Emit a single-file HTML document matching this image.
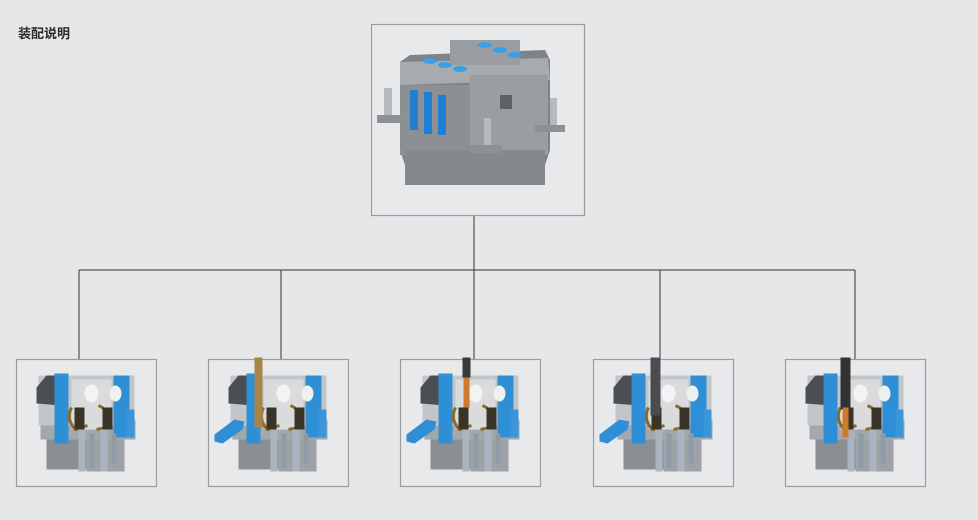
<!DOCTYPE html>
<html><head><meta charset="utf-8"><style>
html,body{margin:0;padding:0;background:#e6e7e9;}
body{width:978px;height:520px;overflow:hidden;position:relative;font-family:"Liberation Sans","Noto Sans CJK SC",sans-serif;}
.t{position:absolute;left:18px;top:23px;font-size:13px;font-weight:bold;color:#2a2a2a;}
</style></head><body>
<div class="t">装配说明</div>
<svg width="978" height="520" style="position:absolute;left:0;top:0">
<defs>
<g id="m">
  <rect x="0" y="0" width="140" height="127" fill="#e8e9eb" stroke="#9a9c9e" stroke-width="1.2"/>
  <!-- lower body -->
  <rect x="30" y="70" width="78" height="40" fill="#8b8f94"/>
  <rect x="70" y="72" width="38" height="40" fill="#9ea2a6"/>
  <rect x="24" y="60" width="95" height="20" fill="#a4a8ac"/>
  <!-- upper body -->
  <rect x="22" y="16" width="96" height="50" fill="#c3c6c9"/>
  <polygon points="20,28 30,16 46,16 46,46 20,44" fill="#4b4e52"/>
  <rect x="38" y="14" width="14" height="70" fill="#2f8fd6"/>
  <rect x="97" y="16" width="16" height="62" fill="#2f8fd6"/>
  <rect x="110" y="50" width="8" height="28" fill="#3a96da"/>
  <!-- inner cavity -->
  <rect x="55" y="20" width="40" height="50" fill="#d9dbdd"/>
  <ellipse cx="75" cy="34" rx="7" ry="9" fill="#f2f3f4"/>
  <ellipse cx="99" cy="34" rx="6" ry="8" fill="#eef0f1"/>
  <path d="M55,48 q-6,12 4,22 l12,-4 M82,46 q14,6 8,22 l-10,2" fill="none" stroke="#8a6a2a" stroke-width="3"/>
  <rect x="58" y="48" width="10" height="22" fill="#3a3426"/>
  <rect x="86" y="48" width="10" height="22" fill="#3a3426"/>
  <!-- pins -->
  <rect x="62" y="70" width="7" height="42" fill="#a9b4c0"/>
  <rect x="73" y="74" width="5" height="34" fill="#8f9aa5"/>
  <rect x="84" y="70" width="7" height="42" fill="#a9b4c0"/>
  <rect x="95" y="74" width="5" height="30" fill="#8f9aa5"/>
</g>
<g id="lever"><polygon points="6,75 26,60 36,62 34,70 14,84 6,82" fill="#2f8fd6"/></g>
</defs>

<!-- connectors -->
<g stroke="#333" stroke-width="1" fill="none">
  <line x1="474" y1="215" x2="474" y2="270"/>
  <line x1="79" y1="270" x2="855" y2="270"/>
  <line x1="79" y1="270" x2="79" y2="359"/>
  <line x1="281" y1="270" x2="281" y2="359"/>
  <line x1="474" y1="270" x2="474" y2="359"/>
  <line x1="660" y1="270" x2="660" y2="359"/>
  <line x1="855" y1="270" x2="855" y2="359"/>
</g>

<!-- top box -->
<rect x="371.5" y="24.5" width="213" height="191" fill="#e8e9eb" stroke="#9a9c9e" stroke-width="1.2"/>
<g>
  <polygon points="400,62 410,55 545,50 550,60 550,150 540,180 410,180 400,150" fill="#7f8387"/>
  <polygon points="400,62 548,58 550,80 400,85" fill="#a7aaae"/>
  <rect x="450" y="40" width="70" height="25" fill="#9a9ea2"/>
  <rect x="400" y="85" width="70" height="70" fill="#8c9094"/>
  <rect x="470" y="75" width="78" height="80" fill="#9a9da1"/>
  <rect x="405" y="150" width="140" height="35" fill="#85898d"/>
  <rect x="410" y="90" width="8" height="40" fill="#1f7fd0"/>
  <rect x="424" y="92" width="8" height="42" fill="#1f7fd0"/>
  <rect x="438" y="95" width="8" height="40" fill="#1f7fd0"/>
  <g fill="#3aa0e6">
    <ellipse cx="430" cy="61" rx="7" ry="3"/><ellipse cx="445" cy="65" rx="7" ry="3"/><ellipse cx="460" cy="69" rx="7" ry="3"/>
    <ellipse cx="485" cy="45" rx="7" ry="3"/><ellipse cx="500" cy="50" rx="7" ry="3"/><ellipse cx="515" cy="55" rx="7" ry="3"/>
  </g>
  <rect x="384" y="88" width="8" height="30" fill="#b7babd"/>
  <rect x="377" y="115" width="30" height="8" fill="#8d9195"/>
  <rect x="550" y="98" width="7" height="28" fill="#b7babd"/>
  <rect x="535" y="125" width="30" height="7" fill="#8d9195"/>
  <rect x="484" y="118" width="7" height="30" fill="#b7babd"/>
  <rect x="470" y="145" width="32" height="8" fill="#8d9195"/>
  <rect x="500" y="95" width="12" height="14" fill="#5e6266"/>
</g>

<!-- bottom boxes -->
<g transform="translate(16.5,359.5)"><use href="#m"/></g>
<g transform="translate(208.5,359.5)"><use href="#m"/><use href="#lever"/><rect x="46" y="-2" width="8" height="70" fill="#a88449"/></g>
<g transform="translate(400.5,359.5)"><use href="#m"/><use href="#lever"/><rect x="62" y="-2" width="8" height="20" fill="#3a3a3c"/><rect x="63" y="18" width="6" height="30" fill="#d07a30"/></g>
<g transform="translate(593.5,359.5)"><use href="#m"/><use href="#lever"/><rect x="57" y="-2" width="10" height="58" fill="#4a4c4f"/></g>
<g transform="translate(785.5,359.5)"><use href="#m"/><rect x="55" y="-2" width="10" height="52" fill="#303234"/><rect x="57" y="48" width="6" height="30" fill="#d07a30"/></g>
</svg>
</body></html>
